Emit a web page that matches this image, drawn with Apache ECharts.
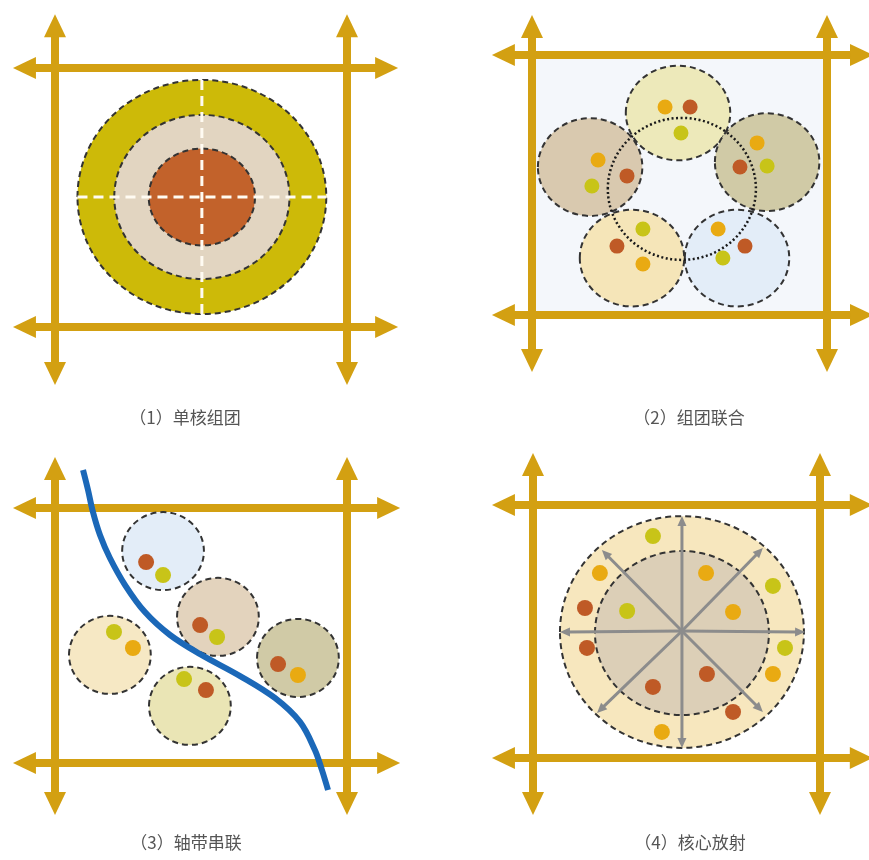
<!DOCTYPE html>
<html><head><meta charset="utf-8">
<script src="https://cdn.jsdelivr.net/npm/echarts@6.0.0/dist/echarts.min.js"></script>
<style>html,body{margin:0;padding:0;background:#fff}#c{width:869px;height:860px}</style>
</head><body><div id="c"></div>
<script>
// ---------- DATA (diagram units: each panel frame spans 0..100 on both axes) ----------
const panelLabels = ['（1）单核组团', '（2）组团联合', '（3）轴带串联', '（4）核心放射'];
// gold frame lines extents per panel: [xMin, xMax, yMin, yMax]
const frameExtents = [
  [-14.4, 117.5, -22.4, 120.8],
  [-13.6, 115.6, -21.9, 115.4],
  [-14.4, 118.2, -20.4, 120.0],
  [-14.3, 118.4, -22.5, 120.6]
];
// panel 1: concentric zones [cx, cy, rx, ry, zone]
const p1Rings = [
  [50.3, 50.2, 42.6, 45.2, 'outer'],
  [50.3, 50.2, 30.0, 31.7, 'middle'],
  [50.3, 50.2, 18.2, 18.7, 'core']
];
// panel 2: clusters [cx, cy, rx, ry, tone]
const p2Clusters = [
  [49.5, 77.7, 17.7, 18.2, 'sage'],
  [19.7, 56.9, 17.7, 18.8, 'tan'],
  [79.7, 58.8, 17.7, 18.8, 'olive'],
  [33.9, 21.9, 17.7, 18.6, 'cream'],
  [69.5, 21.9, 17.7, 18.6, 'sky']
];
const p2Link = [[50.8, 48.5, 25.1, 27.3]];
const p2Dots = [
  [45.1, 80.0, 'orange'], [53.6, 80.0, 'rust'], [50.5, 70.0, 'lime'],
  [22.4, 59.6, 'orange'], [32.2, 53.5, 'rust'], [20.3, 49.6, 'lime'],
  [76.3, 66.2, 'orange'], [70.5, 56.9, 'rust'], [79.7, 57.3, 'lime'],
  [37.6, 33.1, 'lime'], [28.8, 26.5, 'rust'], [37.6, 19.6, 'orange'],
  [63.1, 33.1, 'orange'], [72.2, 26.5, 'rust'], [64.7, 21.9, 'lime']
];
// panel 3
const p3Clusters = [
  [37.0, 83.1, 14.0, 15.3, 'sky'],
  [55.8, 57.3, 14.0, 15.3, 'tan3'],
  [18.8, 42.4, 14.0, 15.3, 'cream3'],
  [46.2, 22.4, 14.0, 15.3, 'sage3'],
  [83.2, 41.2, 14.0, 15.3, 'olive']
];
const p3Dots = [
  [31.2, 78.8, 'rust'], [37.0, 73.7, 'lime'],
  [49.7, 54.1, 'rust'], [55.5, 49.4, 'lime'],
  [20.2, 51.4, 'lime'], [26.7, 45.1, 'orange'],
  [44.2, 32.9, 'lime'], [51.7, 28.6, 'rust'],
  [76.4, 38.8, 'rust'], [83.2, 34.5, 'orange']
];
const p3AxisX = [9.6, 11.3, 13.0, 15.4, 18.8, 24.0, 30.8, 39.4, 49.7, 63.4, 75.3, 83.9, 89.0, 91.4, 93.5];
const p3AxisY = [114.9, 107.1, 98.4, 89.4, 80.4, 69.8, 59.2, 50.2, 42.7, 34.1, 25.5, 16.1, 5.1, -2.7, -10.6];
// panel 4
const p4Rings = [
  [51.9, 49.8, 42.5, 45.8, 'ring'],
  [51.9, 49.4, 30.3, 32.4, 'centre']
];
const p4Center = [51.9, 50.2];
const p4SpokeTips = [
  [51.9, 95.7], [51.9, 4.0], [9.4, 49.8], [94.8, 49.8],
  [24.0, 82.2], [80.1, 83.0], [22.3, 17.8], [80.1, 18.2]
];
const p4Dots = [
  [41.8, 87.7, 'lime'], [23.3, 73.1, 'orange'], [18.1, 59.3, 'rust'], [18.8, 43.5, 'rust'],
  [44.9, 10.3, 'orange'], [69.7, 18.2, 'rust'], [83.6, 33.2, 'orange'], [87.8, 43.5, 'lime'],
  [83.6, 68.0, 'lime'],
  [60.3, 73.1, 'orange'], [32.8, 58.1, 'lime'], [69.7, 57.7, 'orange'],
  [60.6, 33.2, 'rust'], [41.8, 28.1, 'rust']
];

// ---------- STYLE ----------
const GOLD = '#D3A012';
const toneColors = {
  outer: '#CDBA08', middle: '#E2D5C1', core: '#C2622B',
  sage: '#EDE9BA', tan: '#D9C9AF', olive: '#D0CAA6', cream: '#F5E5B8', sky: '#E3EDF8',
  tan3: '#E3D3BD', cream3: '#F6E8C4', sage3: '#EAE5B5',
  ring: '#F7E7BE', centre: '#DCCFB7'
};
const dotColors = { orange: '#E9AA12', rust: '#BF5A26', lime: '#C8C418' };
const grids = [
  { left: 55, top: 68, width: 292, height: 259 },
  { left: 532, top: 55, width: 295, height: 260 },
  { left: 55, top: 508, width: 292, height: 255 },
  { left: 533, top: 505, width: 287, height: 253 }
];
const labelPos = [[185, 418], [689, 418], [186, 843], [690, 843]];
const DASH = { stroke: '#333', lineWidth: 2, lineDash: [6, 4] };

function arrow(p1, p2, atStart, atEnd, L, W) {
  const dx = p2[0] - p1[0], dy = p2[1] - p1[1], len = Math.hypot(dx, dy);
  const ux = dx / len, uy = dy / len, nx = -uy, ny = ux;
  const a = atStart ? [p1[0] + ux * L * 0.8, p1[1] + uy * L * 0.8] : p1;
  const b = atEnd ? [p2[0] - ux * L * 0.8, p2[1] - uy * L * 0.8] : p2;
  const heads = [];
  function head(tip, sx, sy) {
    const bx = tip[0] - sx * L, by = tip[1] - sy * L;
    return [tip, [bx + nx * W / 2, by + ny * W / 2], [bx - nx * W / 2, by - ny * W / 2]];
  }
  if (atEnd) heads.push(head(p2, ux, uy));
  if (atStart) heads.push(head(p1, -ux, -uy));
  return { a, b, heads };
}

function frameData(e) {
  return [[e[0], 0, e[1], 0], [e[0], 100, e[1], 100], [0, e[2], 0, e[3]], [100, e[2], 100, e[3]]];
}

function frameItem(params, api) {
  const p1 = api.coord([api.value(0), api.value(1)]);
  const p2 = api.coord([api.value(2), api.value(3)]);
  const g = arrow(p1, p2, true, true, 23, 22);
  return { type: 'group', children: [
    { type: 'line', shape: { x1: g.a[0], y1: g.a[1], x2: g.b[0], y2: g.b[1] }, style: { stroke: GOLD, lineWidth: 8 } }
  ].concat(g.heads.map(h => ({ type: 'polygon', shape: { points: h }, style: { fill: GOLD } }))) };
}

function ellipseSeries(idx, arr, extra) {
  return {
    type: 'custom', xAxisIndex: idx, yAxisIndex: idx, z: 3, silent: true,
    data: arr.map(d => d.slice(0, 4)),
    renderItem: function (params, api) {
      const c = api.coord([api.value(0), api.value(1)]);
      const s = api.size([api.value(2), api.value(3)]);
      const tone = arr[params.dataIndex][4];
      return { type: 'ellipse', shape: { cx: c[0], cy: c[1], rx: s[0], ry: s[1] },
        style: Object.assign({ fill: toneColors[tone] }, DASH, extra || {}) };
    }
  };
}

function dotSeries(idx, arr, size) {
  return {
    type: 'scatter', xAxisIndex: idx, yAxisIndex: idx, z: 6, silent: true,
    symbolSize: size,
    data: arr.map(d => ({ value: [d[0], d[1]], itemStyle: { color: dotColors[d[2]], opacity: 1 } }))
  };
}

const series = [];
// panel 2 pale background
series.push({
  type: 'custom', xAxisIndex: 1, yAxisIndex: 1, z: 1, silent: true, data: [[0, 100, 100, 0]],
  renderItem: function (params, api) {
    const a = api.coord([api.value(0), api.value(1)]), b = api.coord([api.value(2), api.value(3)]);
    return { type: 'rect', shape: { x: a[0], y: a[1], width: b[0] - a[0], height: b[1] - a[1] }, style: { fill: '#F4F7FB' } };
  }
});
for (let i = 0; i < 4; i++) {
  series.push({ type: 'custom', xAxisIndex: i, yAxisIndex: i, z: 2, silent: true,
    data: frameData(frameExtents[i]), renderItem: frameItem });
}
// panel 1
series.push(ellipseSeries(0, p1Rings));
series.push({
  type: 'custom', xAxisIndex: 0, yAxisIndex: 0, z: 4, silent: true,
  data: [p1Rings[0].slice(0, 4)],
  renderItem: function (params, api) {
    const cx = api.value(0), cy = api.value(1), rx = api.value(2), ry = api.value(3);
    const h1 = api.coord([cx - rx, cy]), h2 = api.coord([cx + rx, cy]);
    const v1 = api.coord([cx, cy + ry]), v2 = api.coord([cx, cy - ry]);
    const st = { stroke: '#FFFBF2', lineWidth: 3, lineDash: [10, 6] };
    return { type: 'group', children: [
      { type: 'line', shape: { x1: h1[0], y1: h1[1], x2: h2[0], y2: h2[1] }, style: st },
      { type: 'line', shape: { x1: v1[0], y1: v1[1], x2: v2[0], y2: v2[1] }, style: st }
    ] };
  }
});
// panel 2
series.push(ellipseSeries(1, p2Clusters));
series.push({
  type: 'custom', xAxisIndex: 1, yAxisIndex: 1, z: 5, silent: true, data: p2Link,
  renderItem: function (params, api) {
    const c = api.coord([api.value(0), api.value(1)]);
    const s = api.size([api.value(2), api.value(3)]);
    return { type: 'ellipse', shape: { cx: c[0], cy: c[1], rx: s[0], ry: s[1] },
      style: { fill: 'none', stroke: '#1a1a1a', lineWidth: 2.5, lineDash: [2, 2.5] } };
  }
});
series.push(dotSeries(1, p2Dots, 15));
// panel 3
series.push(ellipseSeries(2, p3Clusters));
series.push(dotSeries(2, p3Dots, 16));
series.push({
  type: 'line', xAxisIndex: 2, yAxisIndex: 2, z: 7, silent: true, clip: false,
  smooth: 0.35, symbol: 'none',
  lineStyle: { color: '#1B68B8', width: 6 },
  data: p3AxisX.map((x, k) => [x, p3AxisY[k]])
});
// panel 4
series.push(ellipseSeries(3, p4Rings));
series.push({
  type: 'custom', xAxisIndex: 3, yAxisIndex: 3, z: 4, silent: true,
  data: p4SpokeTips.map(t => [p4Center[0], p4Center[1], t[0], t[1]]),
  renderItem: function (params, api) {
    const p1 = api.coord([api.value(0), api.value(1)]);
    const p2 = api.coord([api.value(2), api.value(3)]);
    const g = arrow(p1, p2, false, true, 10, 9);
    return { type: 'group', children: [
      { type: 'line', shape: { x1: g.a[0], y1: g.a[1], x2: g.b[0], y2: g.b[1] }, style: { stroke: '#8C8C8C', lineWidth: 3 } }
    ].concat(g.heads.map(h => ({ type: 'polygon', shape: { points: h }, style: { fill: '#8C8C8C' } }))) };
  }
});
series.push(dotSeries(3, p4Dots, 16));

const option = {
  animation: false,
  backgroundColor: '#ffffff',
  grid: grids.map(g => Object.assign({ show: false }, g)),
  xAxis: grids.map((g, i) => ({ type: 'value', gridIndex: i, min: 0, max: 100, show: false })),
  yAxis: grids.map((g, i) => ({ type: 'value', gridIndex: i, min: 0, max: 100, show: false })),
  graphic: panelLabels.map((t, i) => ({
    type: 'text', x: labelPos[i][0], y: labelPos[i][1],
    style: { text: t, fill: '#555555', font: '17px "Noto Sans CJK SC", sans-serif',
      textAlign: 'center', textVerticalAlign: 'middle', align: 'center', verticalAlign: 'middle' }
  })),
  series: series
};
const chart = echarts.init(document.getElementById('c'), null, { renderer: 'canvas' });
chart.setOption(option);
</script></body></html>
